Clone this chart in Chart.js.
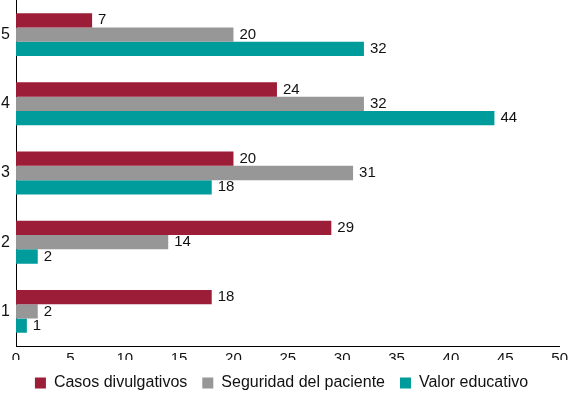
<!DOCTYPE html>
<html>
<head>
<meta charset="utf-8">
<script src="https://cdn.jsdelivr.net/npm/chart.js@4"></script>
<style>
    html, body { margin: 0; padding: 0; background: #fff; }
    #wrap { width: 572px; height: 393px; }
</style>
</head>
<body>
<div id="wrap"><canvas id="chart" width="572" height="393"></canvas></div>
<script>
// categories, top to bottom
const categories = ['5', '4', '3', '2', '1'];
const casosDivulgativos = [7, 24, 20, 29, 18];
const seguridadPaciente = [20, 32, 31, 14, 2];
const valorEducativo = [32, 44, 18, 2, 1];
const xTicks = [0, 5, 10, 15, 20, 25, 30, 35, 40, 45, 50];

const FONT = '"Liberation Sans", Arial, sans-serif';
Chart.defaults.font.family = FONT;
Chart.defaults.font.size = 15;
Chart.defaults.color = '#111';

// draws the value next to the end of each bar
const valueLabels = {
    id: 'valueLabels',
    afterDatasetsDraw(chart) {
        const ctx = chart.ctx;
        ctx.save();
        ctx.font = '15px ' + FONT;
        ctx.fillStyle = '#111';
        ctx.textAlign = 'left';
        ctx.textBaseline = 'middle';
        chart.data.datasets.forEach((ds, i) => {
            chart.getDatasetMeta(i).data.forEach((bar, j) => {
                ctx.fillText(ds.data[j], bar.x + 6, bar.y);
            });
        });
        ctx.restore();
    }
};

new Chart(document.getElementById('chart'), {
    type: 'bar',
    data: {
        labels: categories,
        datasets: [
            { label: 'Casos divulgativos', data: casosDivulgativos, backgroundColor: '#9c1d38' },
            { label: 'Seguridad del paciente', data: seguridadPaciente, backgroundColor: '#979797' },
            { label: 'Valor educativo', data: valorEducativo, backgroundColor: '#009b9b' }
        ]
    },
    options: {
        indexAxis: 'y',
        responsive: false,
        animation: false,
        categoryPercentage: 0.62,
        barPercentage: 1.0,
        layout: { padding: { left: 0, right: 9, top: 0, bottom: 0 } },
        plugins: {
            legend: {
                position: 'bottom',
                maxHeight: 33,
                labels: {
                    boxWidth: 11,
                    boxHeight: 11,
                    padding: 15,
                    font: { size: 16 }
                }
            },
            tooltip: { enabled: false }
        },
        scales: {
            x: {
                min: 0,
                max: 50,
                afterBuildTicks: axis => { axis.ticks = xTicks.map(v => ({ value: v })); },
                afterFit: axis => { axis.height = 14; },
                grid: { display: false, drawTicks: false },
                border: { display: true, color: '#000', width: 1 },
                ticks: {
                    padding: 4,
                    maxRotation: 0,
                    font: { size: 15 }
                }
            },
            y: {
                afterFit: axis => {
                    axis.width = 16;
                    axis.paddingTop = 0;
                    axis.paddingBottom = 0;
                },
                grid: { display: false, drawTicks: false },
                border: { display: true, color: '#000', width: 1 },
                ticks: {
                    padding: 6,
                    font: { size: 16 }
                }
            }
        }
    },
    plugins: [valueLabels]
});
</script>
</body>
</html>
